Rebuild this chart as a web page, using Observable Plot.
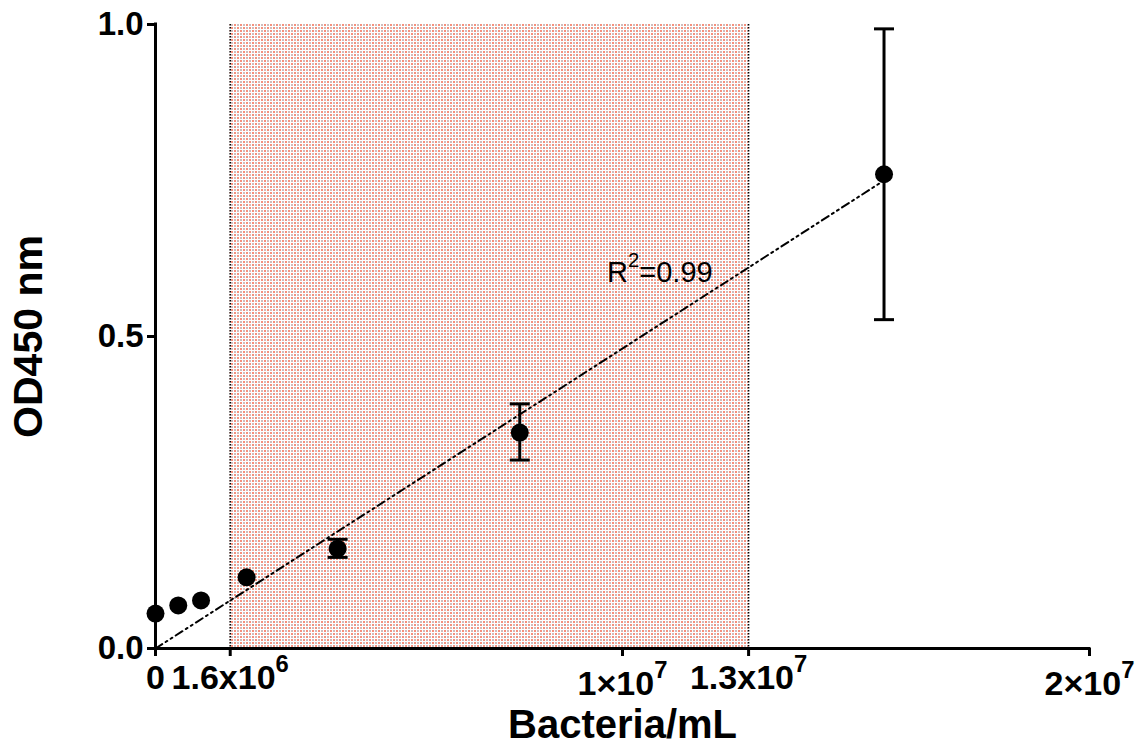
<!DOCTYPE html>
<html>
<head>
<meta charset="utf-8">
<script src="https://cdn.jsdelivr.net/npm/d3@7"></script>
<script src="https://cdn.jsdelivr.net/npm/@observablehq/plot@0.6"></script>
<style>
  html, body { margin: 0; padding: 0; background: #fff; }
  svg text { font-family: "Liberation Sans", Arial, sans-serif; }
</style>
</head>
<body>
<div id="chart"></div>
<script>
// Bacterial concentration (two-fold dilution series) and measured OD450
const bacteria = [0, 4.875e5, 9.75e5, 1.95e6, 3.9e6, 7.8e6, 1.56e7];
const odMean   = [0.056, 0.069, 0.077, 0.114, 0.160, 0.346, 0.760];
const odLow    = [null, null, null, null, 0.146, 0.302, 0.527];
const odHigh   = [null, null, null, null, 0.175, 0.392, 0.993];

// Linear fit through the origin
const fitBacteria = [0, 1.56e7];
const fitOD = [0, 0.75];
const fitLabel = "R^2=0.99";

// Linear (working) range of the assay
const linearRange = [1.6e6, 1.27e7];

// Axis ticks and their labels
const xTicksA = [0, 1.6e6, 1.27e7];
const xLabelsA = ["0", "1.6x10^6", "1.3x10^7"];
const xTicksB = [1e7, 2e7];
const xLabelsB = ["1×10^7", "2×10^7"];
const yTicks = [0, 0.5, 1];
const yLabels = ["0.0", "0.5", "1.0"];

const xTitle = "Bacteria/mL";
const yTitle = "OD450 nm";

const points = bacteria.map((x, i) => ({x, y: odMean[i], lo: odLow[i], hi: odHigh[i]}));
const bars = points.filter(d => d.lo != null);
const fit = fitBacteria.map((x, i) => ({x, y: fitOD[i]}));

// Horizontal error-bar cap drawn as a custom symbol
const capSymbol = {
  draw(context, size) {
    const w = Math.sqrt(size / Math.PI);
    context.moveTo(-w, 0);
    context.lineTo(w, 0);
  }
};

const lookup = (ticks, labels) => v => labels[ticks.indexOf(v)];

const chart = Plot.plot({
  width: 1140,
  height: 745,
  marginLeft: 155,
  marginRight: 51,
  marginTop: 24,
  marginBottom: 97,
  x: {domain: [0, 2e7]},
  y: {domain: [0, 1]},
  style: {background: "white", color: "black", overflow: "visible", fontFamily: "Liberation Sans, Arial, sans-serif"},
  marks: [
    Plot.rect([linearRange], {x1: d => d[0], x2: d => d[1], y1: 0, y2: 1, fill: "url(#range-dots)"}),
    Plot.ruleX(linearRange, {stroke: "black", strokeWidth: 1.5, strokeDasharray: "1.5,1.5"}),
    Plot.line(fit, {x: "x", y: "y", stroke: "black", strokeWidth: 2, strokeDasharray: "8,4,2,4,2,4"}),
    Plot.ruleX(bars, {x: "x", y1: "lo", y2: "hi", stroke: "black", strokeWidth: 3}),
    Plot.dot(bars, {x: "x", y: "lo", symbol: capSymbol, r: 10, stroke: "black", strokeWidth: 3, fill: "none"}),
    Plot.dot(bars, {x: "x", y: "hi", symbol: capSymbol, r: 10, stroke: "black", strokeWidth: 3, fill: "none"}),
    Plot.dot(points, {x: "x", y: "y", r: 9, fill: "black"}),
    Plot.ruleX([0], {stroke: "black", strokeWidth: 3, strokeLinecap: "square"}),
    Plot.ruleY([0], {stroke: "black", strokeWidth: 3, strokeLinecap: "square"}),
    Plot.axisY(yTicks, {tickSize: 8, tickPadding: 4, strokeWidth: 3, fontSize: 33, fontWeight: "bold",
      tickFormat: lookup(yTicks, yLabels), label: null}),
    Plot.axisX(xTicksA, {tickSize: 8, tickPadding: 8, strokeWidth: 3, fontSize: 34, fontWeight: "bold",
      tickFormat: lookup(xTicksA, xLabelsA), label: null}),
    Plot.axisX(xTicksB, {tickSize: 8, tickPadding: 14, strokeWidth: 3, fontSize: 34, fontWeight: "bold",
      tickFormat: lookup(xTicksB, xLabelsB), label: null}),
    Plot.text([fitLabel], {text: d => d, x: 1.08e7, y: 0.603, fontSize: 29, fontWeight: "normal"}),
    Plot.text([xTitle], {text: d => d, frameAnchor: "bottom", lineAnchor: "middle", textAnchor: "middle",
      dy: 77, fontSize: 40, fontWeight: "bold"}),
    Plot.text([yTitle], {text: d => d, frameAnchor: "left", lineAnchor: "middle", textAnchor: "middle",
      dx: -127, rotate: -90, fontSize: 41, fontWeight: "bold"})
  ]
});

// Dotted red/grey fill for the linear range
const ns = "http://www.w3.org/2000/svg";
const defs = document.createElementNS(ns, "defs");
defs.innerHTML = `
  <pattern id="range-dots" width="6" height="6" patternUnits="userSpaceOnUse">
    <rect width="6" height="6" fill="#ffffff"/>
    <rect x="0" y="0" width="2" height="2" fill="#f7907c"/>
    <rect x="3" y="0" width="2" height="2" fill="#cdbdbd"/>
    <rect x="0" y="3" width="2" height="2" fill="#cdbdbd"/>
    <rect x="3" y="3" width="2" height="2" fill="#f7907c"/>
  </pattern>`;
chart.insertBefore(defs, chart.firstChild);

document.getElementById("chart").appendChild(chart);

// Render "^n" as superscripts
chart.querySelectorAll("text").forEach(t => {
  const s = t.textContent;
  if (!s.includes("^")) return;
  const fs = parseFloat(getComputedStyle(t).fontSize);
  const parts = s.split(/\^(\d+)/);
  t.textContent = "";
  parts.forEach((p, i) => {
    if (!p) return;
    const ts = document.createElementNS(ns, "tspan");
    ts.textContent = p;
    if (i % 2 === 1) {
      ts.setAttribute("font-size", fs * 0.7);
      ts.setAttribute("dy", -0.5 * fs);
    } else if (i > 0) {
      ts.setAttribute("dy", 0.5 * fs);
    }
    t.appendChild(ts);
  });
});
</script>
</body>
</html>
